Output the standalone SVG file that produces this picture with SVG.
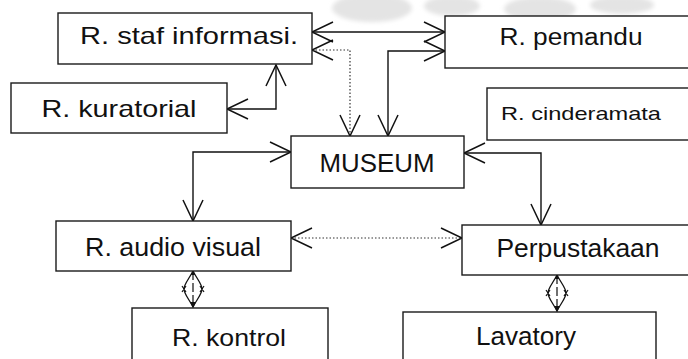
<svg xmlns="http://www.w3.org/2000/svg" width="688" height="359" viewBox="0 0 688 359">
  <style>
    .box { fill: #ffffff; stroke: #1a1a1a; stroke-width: 1.4; }
    .lbl { font-family: "Liberation Sans", Arial, sans-serif; fill: #111111; text-anchor: middle; }
    .link { fill: none; stroke: #111111; stroke-width: 1.4; }
    .dot { fill: none; stroke: #333333; stroke-width: 1.2; stroke-dasharray: 1.5 2; }
    .ends { marker-start: url(#vee); marker-end: url(#vee); }
    .dia { fill: #ffffff; stroke: #111111; stroke-width: 1.3; }
    .wm { fill: #e4e4e4; }
  </style>
  <defs>
    <!-- open V arrowhead, reversed at the start of a path -->
    <marker id="vee" viewBox="-23 -12 25 24" refX="0" refY="0" markerWidth="25" markerHeight="24" markerUnits="userSpaceOnUse" orient="auto-start-reverse" overflow="visible">
      <path d="M-21,-10 L0,0 L-21,10" fill="none" stroke="#111111" stroke-width="1.5"/>
    </marker>
    <!-- diamond link between a room and its service room -->
    <g id="diamondLink">
      <path class="dia" d="M0,0 C-4,8 -9,13 -9,18 C-9,23 -4,28 0,36 C4,28 9,23 9,18 C9,13 4,8 0,0 Z"/>
      <line x1="0" y1="0" x2="0" y2="36" stroke="#111111" stroke-width="1.2" stroke-dasharray="9 3"/>
      <path d="M-11,15 L-7,21 M-7,15 L-11,21 M7,15 L11,21 M11,15 L7,21" stroke="#111111" stroke-width="1.2"/>
      <path d="M-3,31 L0,37 L3,31 Z" fill="#111111"/>
      <path d="M-2,4 L0,-1 L2,4 Z" fill="#111111"/>
    </g>
    <filter id="soft" x="-20%" y="-50%" width="140%" height="200%">
      <feGaussianBlur stdDeviation="2"/>
    </filter>
  </defs>

  <rect width="688" height="359" fill="#ffffff"/>

  <!-- faint background emblem at the top -->
  <g id="emblem" filter="url(#soft)">
    <ellipse class="wm" cx="372" cy="8" rx="40" ry="14"/>
    <ellipse class="wm" cx="452" cy="6" rx="28" ry="10"/>
    <ellipse class="wm" cx="540" cy="9" rx="36" ry="12"/>
    <ellipse class="wm" cx="622" cy="5" rx="32" ry="9"/>
  </g>

  <!-- connectors -->
  <g id="connectors">
    <path class="link ends" d="M312,32 L445,32"/>
    <path class="dot ends" d="M312,50 L350,50 L350,136"/>
    <path class="link ends" d="M445,51 L388,51 L388,136"/>
    <path class="link ends" d="M227,109 L276,109 L276,65"/>
    <path class="link ends" d="M291,152 L193,152 L193,221"/>
    <path class="link ends" d="M464,153 L541,153 L541,225"/>
    <path class="dot ends" d="M291,238 L462,238"/>
    <use href="#diamondLink" x="193" y="271"/>
    <use href="#diamondLink" x="557" y="275"/>
  </g>

  <g id="staf">
    <rect class="box" x="58" y="13" width="254" height="51"/>
    <text class="lbl" x="189" y="44" font-size="24" textLength="218" lengthAdjust="spacingAndGlyphs">R. staf informasi.</text>
  </g>
  <g id="pemandu">
    <rect class="box" x="445" y="16" width="250" height="52"/>
    <text class="lbl" x="571" y="45" font-size="23" textLength="143" lengthAdjust="spacingAndGlyphs">R. pemandu</text>
  </g>
  <g id="kuratorial">
    <rect class="box" x="11" y="83" width="216" height="50"/>
    <text class="lbl" x="119" y="117" font-size="24" textLength="155" lengthAdjust="spacingAndGlyphs">R. kuratorial</text>
  </g>
  <g id="cinderamata">
    <rect class="box" x="487" y="88" width="208" height="52"/>
    <text class="lbl" x="581" y="120" font-size="19" textLength="160" lengthAdjust="spacingAndGlyphs">R. cinderamata</text>
  </g>
  <g id="museum">
    <rect class="box" x="291" y="136" width="173" height="52"/>
    <text class="lbl" x="377" y="172" font-size="26" textLength="115" lengthAdjust="spacingAndGlyphs">MUSEUM</text>
  </g>
  <g id="audio-visual">
    <rect class="box" x="56" y="221" width="235" height="50"/>
    <text class="lbl" x="173" y="256" font-size="25" textLength="176" lengthAdjust="spacingAndGlyphs">R. audio visual</text>
  </g>
  <g id="perpustakaan">
    <rect class="box" x="462" y="225" width="233" height="50"/>
    <text class="lbl" x="578" y="257" font-size="25" textLength="163" lengthAdjust="spacingAndGlyphs">Perpustakaan</text>
  </g>
  <g id="kontrol">
    <rect class="box" x="132" y="308" width="196" height="60"/>
    <text class="lbl" x="229" y="346" font-size="24" textLength="114" lengthAdjust="spacingAndGlyphs">R. kontrol</text>
  </g>
  <g id="lavatory">
    <rect class="box" x="403" y="312" width="253" height="56"/>
    <text class="lbl" x="526" y="345" font-size="25" textLength="100" lengthAdjust="spacingAndGlyphs">Lavatory</text>
  </g>
</svg>
